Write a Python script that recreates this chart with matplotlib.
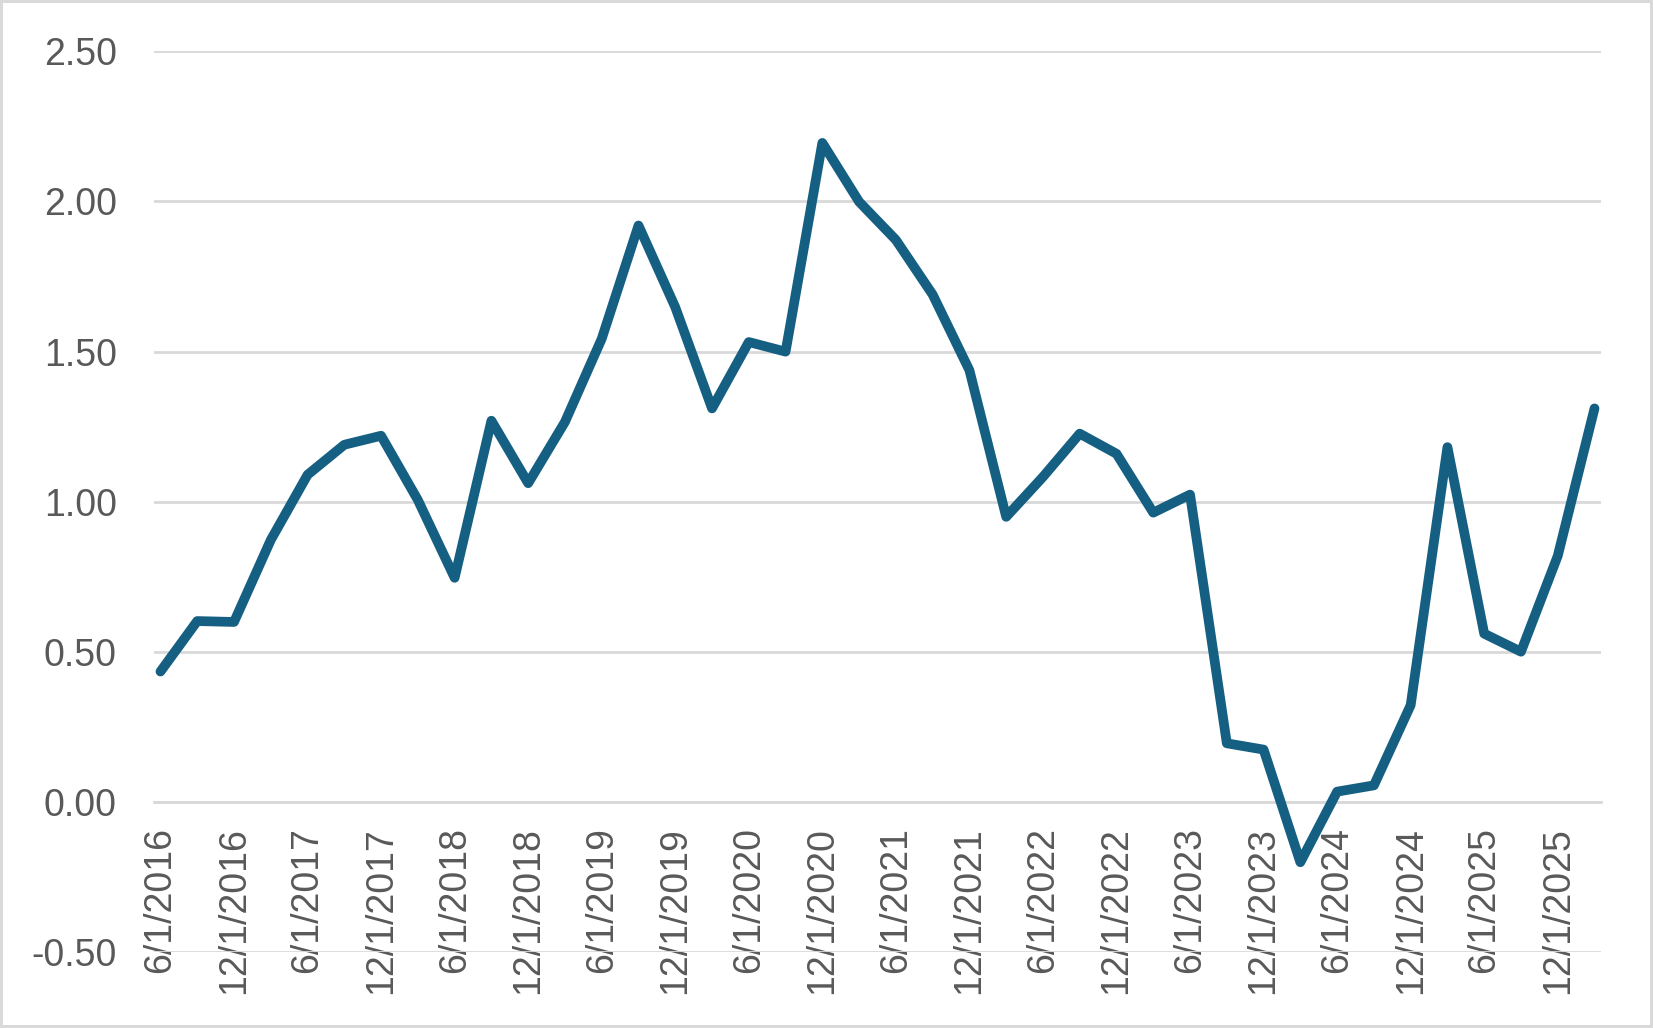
import matplotlib.pyplot as plt

# quarterly dates (label shown every 6 months)
dates = ["6/1/2016", "9/1/2016", "12/1/2016", "3/1/2017", "6/1/2017", "9/1/2017",
         "12/1/2017", "3/1/2018", "6/1/2018", "9/1/2018", "12/1/2018", "3/1/2019",
         "6/1/2019", "9/1/2019", "12/1/2019", "3/1/2020", "6/1/2020", "9/1/2020",
         "12/1/2020", "3/1/2021", "6/1/2021", "9/1/2021", "12/1/2021", "3/1/2022",
         "6/1/2022", "9/1/2022", "12/1/2022", "3/1/2023", "6/1/2023", "9/1/2023",
         "12/1/2023", "3/1/2024", "6/1/2024", "9/1/2024", "12/1/2024", "3/1/2025",
         "6/1/2025", "9/1/2025", "12/1/2025", "3/1/2026"]

values = [0.435, 0.603, 0.600, 0.873, 1.090, 1.190, 1.220, 1.006, 0.747, 1.270,
          1.062, 1.266, 1.543, 1.920, 1.648, 1.311, 1.532, 1.500, 2.195, 1.999,
          1.872, 1.690, 1.438, 0.950, 1.083, 1.227, 1.160, 0.964, 1.024, 0.196,
          0.175, -0.200, 0.035, 0.056, 0.323, 1.182, 0.561, 0.501, 0.820, 1.311]

yticks = [-0.5, 0.0, 0.5, 1.0, 1.5, 2.0, 2.5]

plt.rcParams['font.family'] = ['Liberation Sans', 'DejaVu Sans']

fig = plt.figure(figsize=(16.53, 10.28), dpi=100)
fig.patch.set_edgecolor('#D9D9D9')
fig.patch.set_linewidth(4)
ax = fig.add_axes([0.0933, 0.0736, 0.8751, 0.8765])

# spine position first, it resets tick settings
for s in ['top', 'right', 'left']:
    ax.spines[s].set_visible(False)
ax.spines['bottom'].set_position(('data', 0))
ax.spines['bottom'].set_color('#D9D9D9')
ax.spines['bottom'].set_linewidth(2)

x = list(range(len(values)))
ax.plot(x, values, color='#156082', linewidth=7, solid_joinstyle='round',
        solid_capstyle='round', zorder=3)

ax.set_ylim(-0.5, 2.5)
ax.set_xlim(-0.17, len(values) - 1 + 0.17)
ax.set_yticks(yticks)
ax.set_yticklabels([f"{v:.2f}" for v in yticks])
ax.yaxis.grid(True, color='#D9D9D9', linewidth=2)
ax.set_axisbelow(True)

ax.set_xticks(x[::2])
ax.set_xticklabels(dates[::2])

ax.tick_params(axis='y', length=0, pad=27, labelsize=27, labelcolor='#595959')
ax.tick_params(axis='x', length=0, pad=18, labelsize=27, labelcolor='#595959',
               labelrotation=90)

fig.savefig('out.png', dpi=100, edgecolor=fig.get_edgecolor())
